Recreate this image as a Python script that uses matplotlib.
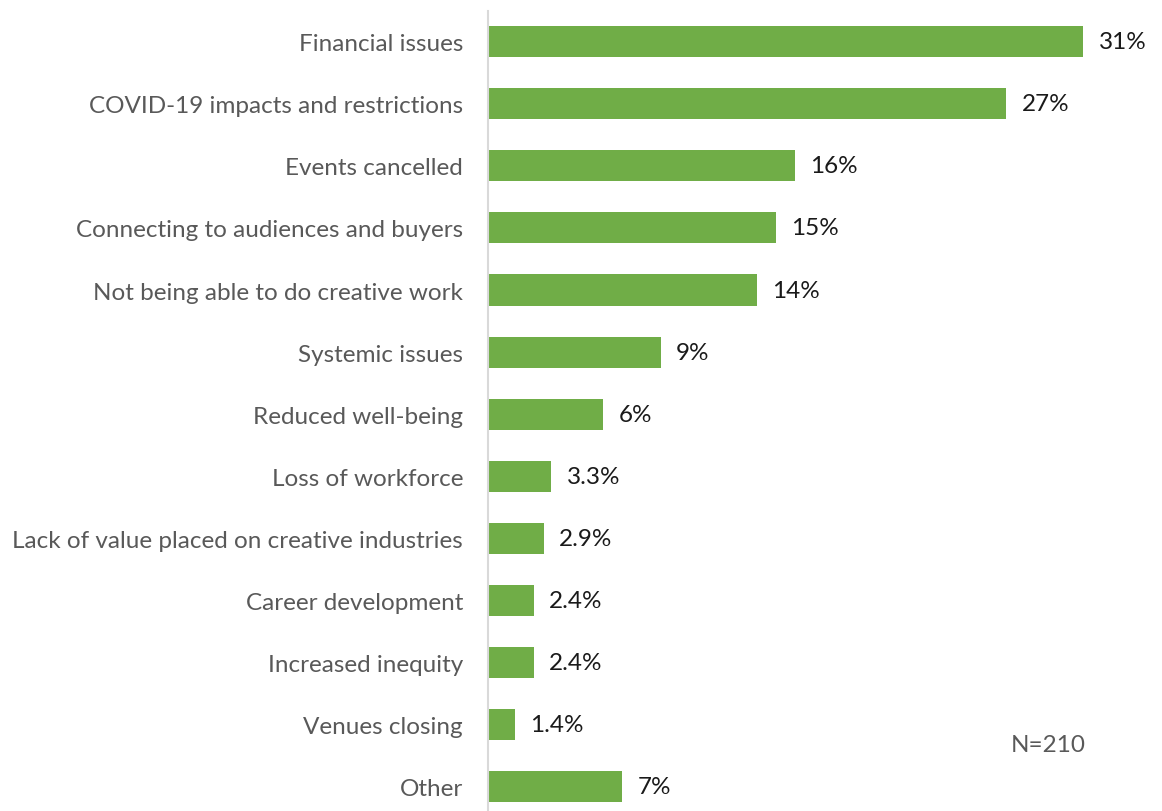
import matplotlib
matplotlib.use("Agg")
import matplotlib.pyplot as plt

categories = [
    "Financial issues",
    "COVID-19 impacts and restrictions",
    "Events cancelled",
    "Connecting to audiences and buyers",
    "Not being able to do creative work",
    "Systemic issues",
    "Reduced well-being",
    "Loss of workforce",
    "Lack of value placed on creative industries",
    "Career development",
    "Increased inequity",
    "Venues closing",
    "Other",
]
values = [31, 27, 16, 15, 14, 9, 6, 3.3, 2.9, 2.4, 2.4, 1.4, 7]
value_labels = ["31%", "27%", "16%", "15%", "14%", "9%", "6%", "3.3%", "2.9%",
                "2.4%", "2.4%", "1.4%", "7%"]
sample_note = "N=210"

plt.rcParams["font.family"] = ["Lato", "DejaVu Sans"]

W, H = 1162, 812
fig = plt.figure(figsize=(W / 100, H / 100), dpi=100)
ax = fig.add_axes([488 / W, 1 - 819 / H, (1160 - 488) / W, (819 - 11.5) / H])

bar_color = "#70AD47"
positions = list(range(len(categories)))
ax.barh(positions, values, height=0.5, color=bar_color, zorder=2)

ax.set_xlim(0, 35)
ax.set_ylim(len(categories) - 0.5, -0.5)

ax.set_yticks(positions)
ax.set_yticklabels(categories, fontsize=17.5, color="#595959")
ax.tick_params(axis="y", length=0, pad=18)
ax.set_xticks([])

for side in ("top", "right", "bottom"):
    ax.spines[side].set_visible(False)
ax.spines["left"].set_color("#D9D9D9")
ax.spines["left"].set_linewidth(1.5)

for y, v, lab in zip(positions, values, value_labels):
    ax.annotate(lab, xy=(v, y), xytext=(11, 0), textcoords="offset points",
                ha="left", va="center", fontsize=17.5, color="#1A1A1A")

fig.text(1048 / W, 1 - 746 / H, sample_note, ha="center", va="center",
         fontsize=17.5, color="#595959")

fig.savefig("out.png", dpi=100)
